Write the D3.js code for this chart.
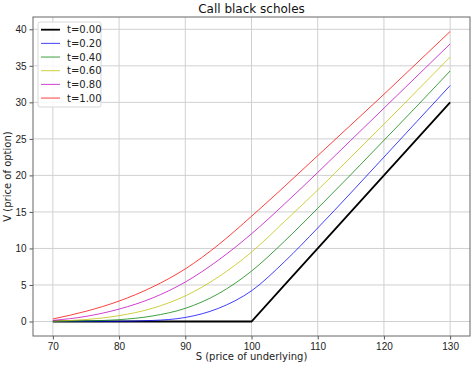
<!DOCTYPE html>
<html>
<head>
<meta charset="utf-8">
<script src="https://cdn.jsdelivr.net/npm/d3@7"></script>
<style>
  body { margin: 0; background: #fff; }
  svg { font-family: 'DejaVu Sans', sans-serif; }
</style>
</head>
<body>
<div id="chart"></div>
<script>
// price of underlying
const sValues = [70, 75, 80, 85, 90, 95, 100, 105, 110, 115, 120, 125, 130];

// option value, one array per time to maturity
const v000 = [0, 0, 0, 0, 0, 0, 0, 5, 10, 15, 20, 25, 30];
const v020 = [0, 0.01, 0.03, 0.14, 0.55, 1.8, 4.2, 8.2, 12.8, 17.6, 22.5, 27.4, 32.3];
const v040 = [0.01, 0.08, 0.25, 0.75, 1.8, 3.8, 6.9, 11.0, 15.5, 20.1, 24.8, 29.5, 34.3];
const v060 = [0.05, 0.27, 0.8, 1.8, 3.5, 6.1, 9.5, 13.7, 18.0, 22.5, 27.0, 31.6, 36.2];
const v080 = [0.15, 0.7, 1.7, 3.2, 5.4, 8.4, 12.0, 16.1, 20.4, 24.8, 29.2, 33.6, 38.0];
const v100 = [0.35, 1.4, 2.8, 4.7, 7.2, 10.5, 14.4, 18.5, 22.7, 26.9, 31.1, 35.4, 39.7];

const seriesLabels = ['t=0.00', 't=0.20', 't=0.40', 't=0.60', 't=0.80', 't=1.00'];
const seriesValues = [v000, v020, v040, v060, v080, v100];
const seriesColors = ['#000000', '#0000ff', '#008000', '#bfbf00', '#bf00bf', '#ff0000'];

const xTicks = [70, 80, 90, 100, 110, 120, 130];
const yTicks = [0, 5, 10, 15, 20, 25, 30, 35, 40];

const W = 474, H = 366;
const margin = { top: 17, right: 4, bottom: 30, left: 33 };
const width = W - margin.left - margin.right;
const height = H - margin.top - margin.bottom;

const svg = d3.select('#chart')
  .append('svg')
  .attr('width', W)
  .attr('height', H);

const g = svg.append('g')
  .attr('transform', `translate(${margin.left},${margin.top})`);

// matplotlib style 5% padding
const yMax = d3.max(v100);
const x = d3.scaleLinear().domain([67, 133]).range([0, width]);
const y = d3.scaleLinear().domain([-yMax * 0.05, yMax * 1.05]).range([height, 0]);

// grid
g.append('g')
  .selectAll('line')
  .data(xTicks)
  .join('line')
  .attr('x1', d => x(d)).attr('x2', d => x(d))
  .attr('y1', 0).attr('y2', height)
  .attr('stroke', '#d0d0d0').attr('stroke-width', 1);

g.append('g')
  .selectAll('line')
  .data(yTicks)
  .join('line')
  .attr('x1', 0).attr('x2', width)
  .attr('y1', d => y(d)).attr('y2', d => y(d))
  .attr('stroke', '#d0d0d0').attr('stroke-width', 1);

// axes
const xAxis = g.append('g')
  .attr('transform', `translate(0,${height})`)
  .call(d3.axisBottom(x).tickValues(xTicks).tickSize(3.5).tickPadding(3));
const yAxis = g.append('g')
  .call(d3.axisLeft(y).tickValues(yTicks).tickSize(3.5).tickPadding(3));

[xAxis, yAxis].forEach(a => {
  a.select('.domain').remove();
  a.selectAll('line').attr('stroke', '#555');
  a.selectAll('text').attr('fill', '#222').style('font-size', '10px');
});

// lines
seriesValues.forEach((vals, i) => {
  const pts = sValues.map((s, j) => ({ s: s, v: vals[j] }));
  const line = d3.line()
    .x(d => x(d.s))
    .y(d => y(d.v))
    .curve(i === 0 ? d3.curveLinear : d3.curveMonotoneX);
  g.append('path')
    .datum(pts)
    .attr('fill', 'none')
    .attr('stroke', seriesColors[i])
    .attr('stroke-width', i === 0 ? 1.8 : 1)
    .attr('stroke-opacity', i === 0 ? 1 : 0.75)
    .attr('d', line);
});

// frame
g.append('rect')
  .attr('width', width).attr('height', height)
  .attr('fill', 'none')
  .attr('stroke', '#666').attr('stroke-width', 1);

// legend
const legend = g.append('g').attr('transform', 'translate(5,5)');
legend.append('rect')
  .attr('width', 63).attr('height', 85)
  .attr('rx', 2)
  .attr('fill', '#fff').attr('fill-opacity', 0.85)
  .attr('stroke', '#d8d8d8');

seriesLabels.forEach((lab, i) => {
  const yy = 7.7 + i * 13.67;
  legend.append('line')
    .attr('x1', 3).attr('x2', 22)
    .attr('y1', yy).attr('y2', yy)
    .attr('stroke', seriesColors[i])
    .attr('stroke-width', i === 0 ? 1.8 : 1)
    .attr('stroke-opacity', i === 0 ? 1 : 0.75);
  legend.append('text')
    .attr('x', 29).attr('y', yy)
    .attr('dy', '0.35em')
    .style('font-size', '10px')
    .attr('fill', '#222')
    .text(lab);
});

// title and axis labels
svg.append('text')
  .attr('x', margin.left + width / 2).attr('y', 13)
  .attr('text-anchor', 'middle')
  .style('font-size', '12px')
  .attr('fill', '#111')
  .text('Call black scholes');

svg.append('text')
  .attr('x', margin.left + width / 2).attr('y', 360)
  .attr('text-anchor', 'middle')
  .style('font-size', '10px')
  .attr('fill', '#222')
  .text('S (price of underlying)');

svg.append('text')
  .attr('transform', `translate(11,${margin.top + height / 2}) rotate(-90)`)
  .attr('text-anchor', 'middle')
  .style('font-size', '10px')
  .attr('fill', '#222')
  .text('V (price of option)');
</script>
</body>
</html>
